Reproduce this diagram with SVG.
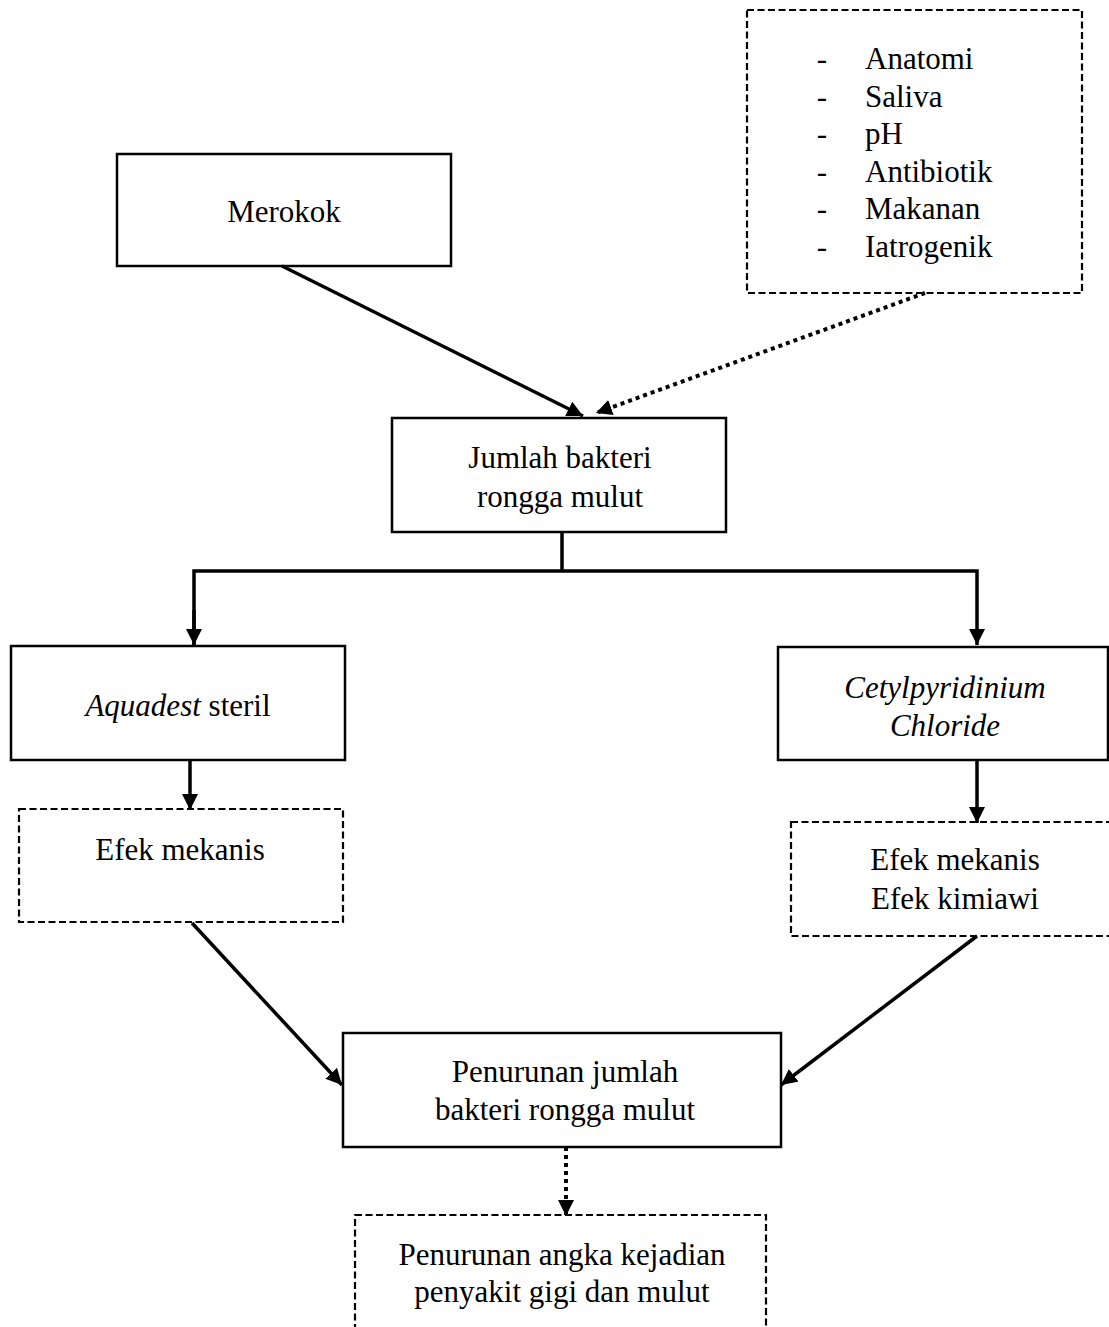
<svg xmlns="http://www.w3.org/2000/svg" width="1109" height="1327" viewBox="0 0 1109 1327">
<defs>
<marker id="ah" markerUnits="userSpaceOnUse" markerWidth="18" markerHeight="16" refX="16" refY="8" orient="auto">
<path d="M0,0 L16,8 L0,16 Z" fill="#000"/>
</marker>
<style>
.box{fill:#fff;stroke:#000;stroke-width:2.5}
.dbox{fill:#fff;stroke:#000;stroke-width:2.2;stroke-dasharray:7,3.5}
text{font-family:"Liberation Serif","Times New Roman",serif;font-size:31px;fill:#000}
.c{text-anchor:middle}
.i{font-style:italic}
.solid{fill:none;stroke:#000;stroke-width:3.5}
.dot{fill:none;stroke:#000;stroke-width:4;stroke-dasharray:4,4}
</style>
</defs>
<rect width="1109" height="1327" fill="#fff"/>
<g id="faktor">
<rect class="dbox" x="747" y="10" width="335" height="283"/>
<text x="822" y="69" class="c">-</text><text x="865" y="69">Anatomi</text>
<text x="822" y="107" class="c">-</text><text x="865" y="107">Saliva</text>
<text x="822" y="144" class="c">-</text><text x="865" y="144">pH</text>
<text x="822" y="182" class="c">-</text><text x="865" y="182">Antibiotik</text>
<text x="822" y="219" class="c">-</text><text x="865" y="219">Makanan</text>
<text x="822" y="257" class="c">-</text><text x="865" y="257">Iatrogenik</text>
</g>
<g id="merokok">
<rect class="box" x="117" y="154" width="334" height="112"/>
<text x="284" y="222" class="c">Merokok</text>
</g>
<g id="jumlah">
<rect class="box" x="392" y="418" width="334" height="114"/>
<text x="560" y="468" class="c">Jumlah bakteri</text>
<text x="560" y="507" class="c">rongga mulut</text>
</g>
<g id="aquadest">
<rect class="box" x="11" y="646" width="334" height="114"/>
<text x="178" y="716" class="c"><tspan class="i">Aquadest</tspan> steril</text>
</g>
<g id="cpc">
<rect class="box" x="778" y="647" width="330" height="113"/>
<text x="945" y="698" class="c i">Cetylpyridinium</text>
<text x="945" y="736" class="c i">Chloride</text>
</g>
<g id="efek1">
<rect class="dbox" x="19" y="809" width="324" height="113"/>
<text x="180" y="860" class="c">Efek mekanis</text>
</g>
<g id="efek2">
<rect class="dbox" x="791" y="822" width="330" height="114"/>
<text x="955" y="870" class="c">Efek mekanis</text>
<text x="955" y="909" class="c">Efek kimiawi</text>
</g>
<g id="penurunan">
<rect class="box" x="343" y="1033" width="438" height="114"/>
<text x="565" y="1082" class="c">Penurunan jumlah</text>
<text x="565" y="1120" class="c">bakteri rongga mulut</text>
</g>
<g id="angka">
<rect class="dbox" x="355" y="1215" width="411" height="130"/>
<text x="562" y="1265" class="c">Penurunan angka kejadian</text>
<text x="562" y="1302" class="c">penyakit gigi dan mulut</text>
</g>
<g id="connectors">
<line class="solid" x1="282" y1="266" x2="583" y2="416" marker-end="url(#ah)"/>
<line class="dot" x1="925" y1="293" x2="596" y2="413" marker-end="url(#ah)"/>
<polyline class="solid" points="562,532 562,571"/>
<polyline class="solid" points="194,645 194,571 977,571 977,645" marker-end="url(#ah)"/>
<line class="solid" x1="194" y1="610" x2="194" y2="645" marker-end="url(#ah)"/>
<line class="solid" x1="190" y1="760" x2="190" y2="810" marker-end="url(#ah)"/>
<line class="solid" x1="977" y1="760" x2="977" y2="823" marker-end="url(#ah)"/>
<line class="solid" x1="192" y1="923" x2="342" y2="1085" marker-end="url(#ah)"/>
<line class="solid" x1="977" y1="936" x2="781" y2="1085" marker-end="url(#ah)"/>
<line class="dot" x1="566" y1="1147" x2="566" y2="1216" marker-end="url(#ah)"/>
</g>
</svg>
